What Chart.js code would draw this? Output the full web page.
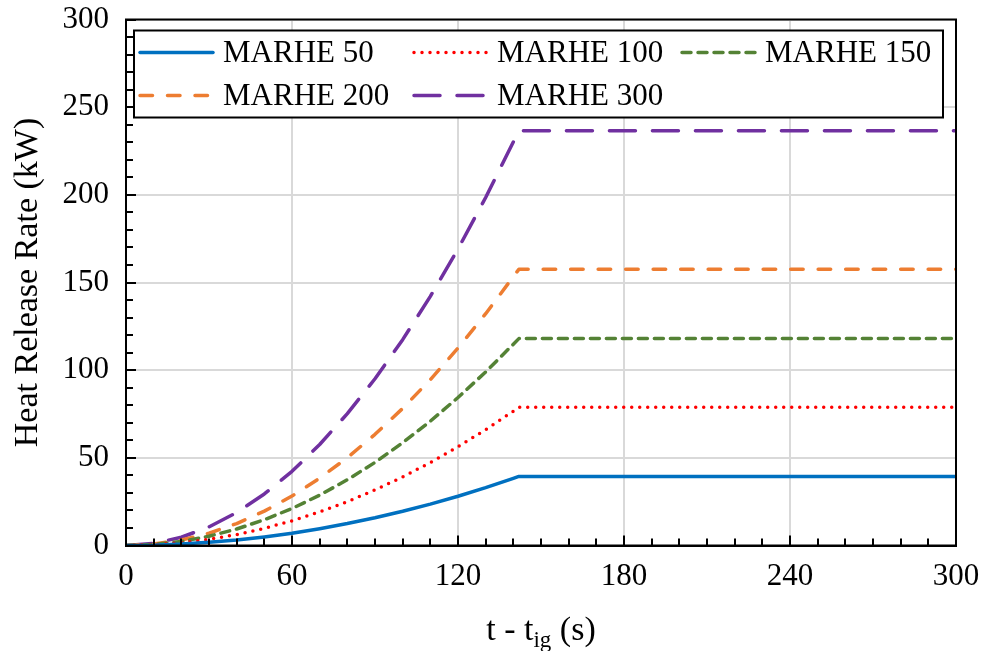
<!DOCTYPE html>
<html>
<head>
<meta charset="utf-8">
<script src="https://cdn.jsdelivr.net/npm/chart.js@4/dist/chart.umd.min.js"></script>
<style>
  html, body { margin: 0; padding: 0; background: #ffffff; }
  #wrap { width: 984px; height: 651px; position: relative; }
</style>
</head>
<body>
<div id="wrap"><canvas id="c" width="984" height="651"></canvas></div>
<script>
// ---- Data ----
const timeS   = [0, 10, 20, 30, 40, 50, 60, 70, 80, 90, 100, 110, 120, 130, 140, 142, 300];
const marhe50  = [0, 0.2, 0.8, 1.8, 3.1, 4.9, 7.0, 9.6, 12.5, 15.8, 19.5, 23.6, 28.1, 33.0, 38.3, 39.4, 39.4];
const marhe100 = [0, 0.4, 1.6, 3.5, 6.2, 9.8, 14.1, 19.2, 25.0, 31.7, 39.1, 47.3, 56.3, 66.1, 76.6, 78.8, 78.8];
const marhe150 = [0, 0.6, 2.3, 5.3, 9.4, 14.7, 21.1, 28.7, 37.5, 47.4, 58.6, 70.9, 84.4, 99.0, 114.8, 118.0, 118.0];
const marhe200 = [0, 0.8, 3.1, 7.0, 12.5, 19.6, 28.2, 38.4, 50.1, 63.4, 78.2, 94.6, 112.6, 132.2, 153.3, 157.5, 157.5];
const marhe300 = [0, 1.2, 4.7, 10.6, 18.8, 29.4, 42.3, 57.6, 75.2, 95.1, 117.4, 142.1, 169.1, 198.5, 230.2, 236.5, 236.5];
const seriesLabels = ['MARHE 50', 'MARHE 100', 'MARHE 150', 'MARHE 200', 'MARHE 300'];
const xTickValues = [0, 60, 120, 180, 240, 300];
const yTickValues = [0, 50, 100, 150, 200, 250, 300];

const FONT = "'Liberation Serif', 'Times New Roman', serif";

const styles = [
  { color: '#0070C0', dash: [] },
  { color: '#FF0000', dash: [0, 8] },
  { color: '#548235', dash: [9, 7] },
  { color: '#ED7D31', dash: [12.5, 15] },
  { color: '#7030A0', dash: [26, 17] }
];
const seriesValues = [marhe50, marhe100, marhe150, marhe200, marhe300];

const datasets = seriesValues.map((vals, i) => ({
  label: seriesLabels[i],
  data: vals.map((v, k) => ({ x: timeS[k], y: v })),
  borderColor: styles[i].color,
  backgroundColor: styles[i].color,
  borderWidth: 3.5,
  borderDash: styles[i].dash,
  borderCapStyle: 'round',
  borderJoinStyle: 'round',
  pointRadius: 0,
  tension: 0,
  fill: false
}));

const framePlugin = {
  id: 'frame',
  afterDatasetsDraw(chart) {
    const { ctx, chartArea: a, scales } = chart;
    ctx.save();
    // minor/major inward ticks
    ctx.strokeStyle = '#000';
    ctx.lineWidth = 2;
    ctx.beginPath();
    for (let v = 0; v <= 300; v += 10) {
      const px = Math.round(scales.x.getPixelForValue(v));
      const len = (v % 60 === 0) ? 10 : 7;
      ctx.moveTo(px, a.bottom);
      ctx.lineTo(px, a.bottom - len);
      const py = Math.round(scales.y.getPixelForValue(v));
      const leny = (v % 50 === 0) ? 10 : 7;
      ctx.moveTo(a.left, py);
      ctx.lineTo(a.left + leny, py);
    }
    ctx.stroke();
    // frame box
    ctx.lineWidth = 2;
    ctx.strokeRect(a.left, a.top, a.right - a.left, a.bottom - a.top);

    // legend box
    const lx = a.left + 8, ly = a.top + 11, lw = a.right - a.left - 21, lh = 87;
    ctx.fillStyle = '#fff';
    ctx.fillRect(lx, ly, lw, lh);
    ctx.strokeRect(lx, ly, lw, lh);
    const cols = [lx + 89, lx + 363, lx + 631];
    const rows = [ly + 22, ly + 65];
    ctx.font = "31px " + FONT;
    ctx.textBaseline = 'middle';
    ctx.textAlign = 'left';
    chart.data.datasets.forEach((ds, i) => {
      const tx = cols[i % 3], cy = rows[Math.floor(i / 3)];
      ctx.save();
      ctx.strokeStyle = ds.borderColor;
      ctx.lineWidth = ds.borderWidth;
      ctx.lineCap = 'round';
      ctx.setLineDash(ds.borderDash);
      ctx.beginPath();
      ctx.moveTo(tx - 83, cy);
      ctx.lineTo(tx - 10, cy);
      ctx.stroke();
      ctx.restore();
      ctx.fillStyle = '#000';
      ctx.fillText(ds.label, tx, cy + 1);
    });

    // axis titles
    ctx.fillStyle = '#000';
    ctx.font = "34px " + FONT;
    ctx.save();
    ctx.translate(28, (a.top + a.bottom) / 2);
    ctx.rotate(-Math.PI / 2);
    ctx.textAlign = 'center';
    ctx.textBaseline = 'middle';
    ctx.fillText('Heat Release Rate (kW)', 0, 0);
    ctx.restore();

    // x title with subscript: "t - t" + sub "ig" + " (s)"
    const p1 = 't - t', sub = 'ig', p2 = ' (s)';
    ctx.font = "34px " + FONT;
    const w1 = ctx.measureText(p1).width, w3 = ctx.measureText(p2).width;
    ctx.font = "23px " + FONT;
    const w2 = ctx.measureText(sub).width;
    const total = w1 + w2 + w3;
    let x0 = (a.left + a.right) / 2 - total / 2;
    const by = 640;
    ctx.textAlign = 'left';
    ctx.textBaseline = 'alphabetic';
    ctx.font = "34px " + FONT;
    ctx.fillText(p1, x0, by);
    ctx.font = "23px " + FONT;
    ctx.fillText(sub, x0 + w1, by + 7);
    ctx.font = "34px " + FONT;
    ctx.fillText(p2, x0 + w1 + w2, by);
    ctx.restore();
  }
};

new Chart(document.getElementById('c'), {
  type: 'line',
  data: { datasets },
  options: {
    responsive: false,
    animation: false,
    layout: { padding: { left: 0, right: 28, top: 19.5, bottom: 0 } },
    plugins: { legend: { display: false }, tooltip: { enabled: false } },
    scales: {
      x: {
        type: 'linear', min: 0, max: 300,
        afterBuildTicks(s) { s.ticks = xTickValues.map(v => ({ value: v })); },
        afterFit(s) { s.height = 105.5; s.paddingLeft = 0; s.paddingRight = 0; },
        ticks: { color: '#000', font: { family: FONT, size: 31 }, padding: 13, maxRotation: 0 },
        grid: { color: '#d9d9d9', lineWidth: 2, drawTicks: false },
        border: { display: true, color: '#000', width: 2 }
      },
      y: {
        type: 'linear', min: 0, max: 300,
        afterBuildTicks(s) { s.ticks = yTickValues.map(v => ({ value: v })); },
        afterFit(s) { s.width = 126; s.paddingTop = 0; s.paddingBottom = 0; },
        ticks: { color: '#000', font: { family: FONT, size: 31 }, padding: 17 },
        grid: { color: '#d9d9d9', lineWidth: 2, drawTicks: false },
        border: { display: true, color: '#000', width: 2 }
      }
    }
  },
  plugins: [framePlugin]
});
</script>
</body>
</html>
